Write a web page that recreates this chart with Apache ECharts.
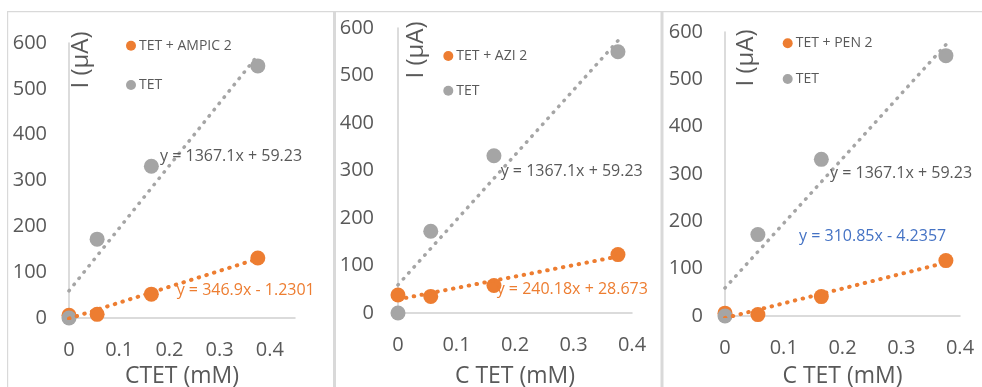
<!DOCTYPE html>
<html>
<head>
<meta charset="utf-8">
<script src="https://cdn.jsdelivr.net/npm/echarts@6/dist/echarts.min.js"></script>
<style>
  html, body { margin: 0; padding: 0; background: #ffffff; }
  #chart { width: 982px; height: 387px; }
</style>
</head>
<body>
<div id="chart"></div>
<script>
// Concentration of TET (mM) used in every run
const concTET = [0, 0.056, 0.164, 0.376];

// Peak currents (µA)
const currTET   = [0, 172, 331, 550];
const currAMPIC = [6, 8, 52, 131];
const currAZI   = [38, 35, 58, 123];
const currPEN   = [6, 3, 41, 117];

// Linear fits: [slope, intercept]
const fitTET   = [1367.1, 59.23];
const fitAMPIC = [346.9, -1.2301];
const fitAZI   = [240.18, 28.673];
const fitPEN   = [310.85, -4.2357];

// Series names and axis titles per panel
const mixNames  = ['TET + AMPIC 2', 'TET + AZI 2', 'TET + PEN 2'];
const mixCurr   = [currAMPIC, currAZI, currPEN];
const mixFits   = [fitAMPIC, fitAZI, fitPEN];
const xTitles   = ['CTET (mM)', 'C TET (mM)', 'C TET (mM)'];
const yTitle    = 'I (µA)';
const xMaxes    = [0.45, 0.4, 0.4];

const ORANGE = '#ED7D31';
const GRAY = '#A5A5A5';
const TEXT = '#595959';
const FONT = '"Open Sans", sans-serif';

const chart = echarts.init(document.getElementById('chart'));

function pairs(xs, ys) { return xs.map((x, i) => [x, ys[i]]); }
function fitLine(fit) {
  const x0 = concTET[0], x1 = concTET[concTET.length - 1];
  return [[x0, fit[0] * x0 + fit[1]], [x1, fit[0] * x1 + fit[1]]];
}
function eqText(fit) {
  return 'y = ' + fit[0] + 'x ' + (fit[1] < 0 ? '- ' : '+ ') + Math.abs(fit[1]);
}

const grids = [
  { left: 69,  top: 43, width: 226, height: 275, outerBoundsMode: 'none', containLabel: false },
  { left: 398, top: 28, width: 234, height: 285, outerBoundsMode: 'none', containLabel: false },
  { left: 725, top: 32, width: 235, height: 284, outerBoundsMode: 'none', containLabel: false }
];
const nameGaps = [47, 52, 49];
const yLabelMargins = [22, 24, 22];

const xAxes = grids.map((g, i) => ({
  type: 'value', gridIndex: i, min: 0, max: xMaxes[i], interval: 0.1,
  axisLine: { show: true, lineStyle: { color: '#D0D0D0', width: 1.5 } },
  axisTick: { show: false },
  splitLine: { show: false },
  axisLabel: {
    color: TEXT, fontSize: 20, fontFamily: FONT, margin: 22,
    showMaxLabel: xMaxes[i] === 0.4,
    formatter: v => String(+v.toFixed(2))
  },
  name: xTitles[i], nameLocation: 'middle', nameGap: nameGaps[i],
  nameTextStyle: { color: TEXT, fontSize: 23, fontFamily: FONT }
}));

const yAxes = grids.map((g, i) => ({
  type: 'value', gridIndex: i, min: 0, max: 600, interval: 100,
  axisLine: { show: true, lineStyle: { color: '#D0D0D0', width: 1.5 } },
  axisTick: { show: false },
  splitLine: { show: false },
  axisLabel: { color: TEXT, fontSize: 20, fontFamily: FONT, margin: yLabelMargins[i] }
}));

const series = [];
const dotted = (color, w) => ({ color: color, width: w, type: [0.5, 7.5], cap: 'round' });
for (let i = 0; i < 3; i++) {
  series.push({
    name: mixNames[i], type: 'scatter', xAxisIndex: i, yAxisIndex: i,
    data: pairs(concTET, mixCurr[i]), symbol: 'circle', symbolSize: 15,
    itemStyle: { color: ORANGE, opacity: 1 }, z: 2
  });
  series.push({
    name: 'TET', type: 'scatter', xAxisIndex: i, yAxisIndex: i,
    data: pairs(concTET, currTET), symbol: 'circle', symbolSize: 15,
    itemStyle: { color: GRAY, opacity: 1 }, z: 3
  });
  series.push({
    name: 'fit-mix-' + i, type: 'line', xAxisIndex: i, yAxisIndex: i,
    data: fitLine(mixFits[i]), showSymbol: false, symbol: 'none',
    lineStyle: dotted(ORANGE, 4), z: 4, silent: true
  });
  series.push({
    name: 'fit-tet-' + i, type: 'line', xAxisIndex: i, yAxisIndex: i,
    data: fitLine(fitTET), showSymbol: false, symbol: 'none',
    lineStyle: dotted(GRAY, 3.5), z: 4, silent: true
  });
}

const legendPos = [
  { left: 126, top: 38.7, itemGap: 25.3 },
  { left: 443.3, top: 49, itemGap: 20.7 },
  { left: 782.7, top: 36.3, itemGap: 21.7 }
];
const legends = legendPos.map((p, i) => ({
  orient: 'vertical', left: p.left, top: p.top, itemGap: p.itemGap,
  itemWidth: 10, itemHeight: 10, icon: 'circle', padding: 0,
  data: [mixNames[i], 'TET'],
  itemStyle: { opacity: 1 },
  textStyle: { color: TEXT, fontSize: 14, fontFamily: FONT, lineHeight: 14, padding: [0, 0, 0, -2] }
}));

// Equation labels: [fit, x, y, colour]
const eqLabels = [
  [fitTET, 160, 156.7, TEXT],
  [fitAMPIC, 176.7, 290, ORANGE],
  [fitTET, 500.7, 171, TEXT],
  [fitAZI, 496.7, 289.3, ORANGE],
  [fitTET, 830, 173.3, TEXT],
  [fitPEN, 799, 236.7, '#4472C4']
];

const yTitlePos = [[81.5, 60], [416, 50], [746.5, 58]];

const graphics = [
  { type: 'rect', shape: { x: 7, y: 11, width: 1.2, height: 376 }, style: { fill: '#D9D9D9' }, silent: true },
  { type: 'rect', shape: { x: 7, y: 11, width: 975, height: 1.2 }, style: { fill: '#D9D9D9' }, silent: true },
  { type: 'rect', shape: { x: 333, y: 11, width: 3, height: 376 }, style: { fill: '#D9D9D9' }, silent: true },
  { type: 'rect', shape: { x: 660.5, y: 11, width: 3, height: 376 }, style: { fill: '#D9D9D9' }, silent: true }
];
eqLabels.forEach(e => graphics.push({
  type: 'text', x: e[1], y: e[2], z: 10,
  style: { text: eqText(e[0]), fill: e[3], font: '16px ' + FONT, verticalAlign: 'middle', align: 'left' }
}));
yTitlePos.forEach(p => graphics.push({
  type: 'text', x: p[0], y: p[1], rotation: Math.PI / 2, z: 10,
  style: { text: yTitle, fill: TEXT, font: '24px ' + FONT, align: 'center', verticalAlign: 'middle' }
}));

chart.setOption({
  animation: false,
  backgroundColor: '#ffffff',
  grid: grids,
  xAxis: xAxes,
  yAxis: yAxes,
  legend: legends,
  series: series,
  graphic: graphics
});
</script>
</body>
</html>
